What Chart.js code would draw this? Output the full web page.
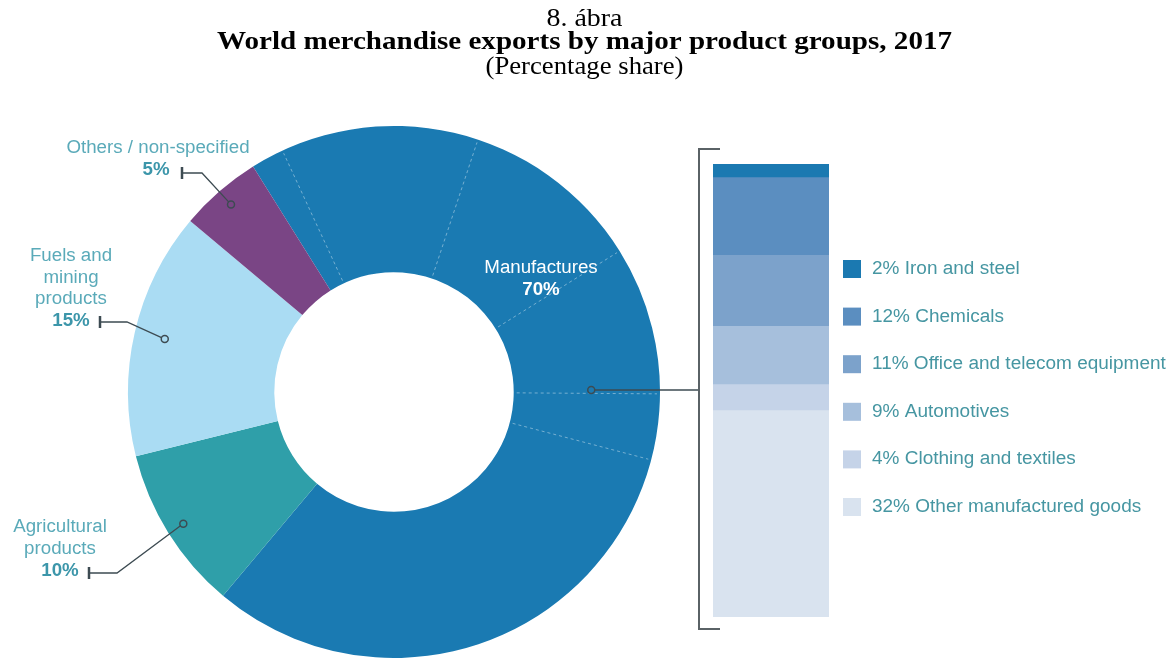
<!DOCTYPE html>
<html><head><meta charset="utf-8">
<script src="https://cdn.jsdelivr.net/npm/chart.js@4.4.0/dist/chart.umd.min.js"></script>
<style>
html,body{margin:0;padding:0;background:#fff;}
#wrap{position:relative;width:1169px;height:658px;overflow:hidden;background:#fff;}
canvas{position:absolute;left:0;top:0;}
</style></head><body>
<div id="wrap"><canvas id="donut" width="1169" height="658"></canvas><canvas id="bar" width="1169" height="658"></canvas></div>
<script>
// ---- data ----
const figureNo = '8. ábra';
const chartTitle = 'World merchandise exports by major product groups, 2017';
const chartSubtitle = '(Percentage share)';
const groupNames = ['Manufactures', 'Agricultural products', 'Fuels and mining products', 'Others / non-specified'];
const groupShares = [70, 10, 15, 5];
const subGroups = ['Iron and steel', 'Chemicals', 'Office and telecom equipment', 'Automotives', 'Clothing and textiles', 'Other manufactured goods'];
const subShares = [2, 12, 11, 9, 4, 32];

// ---- styles ----
const groupColors = ['#1a7ab2', '#2f9fa9', '#aadcf3', '#7a4585'];
const subColors = ['#1b79b1', '#5b8ec0', '#7ca2cb', '#a6bfdc', '#c5d3e8', '#d9e3ef'];
const SANS = '"Liberation Sans", Arial, sans-serif';
const SERIF = '"Liberation Serif", "Times New Roman", Times, serif';
const SX = 1.04;
const LABEL_C = '#5aaab9', PCT_C = '#3c96aa', LEG_C = '#4696a2', LINE_C = '#3d4b52';

// label layout per group (same order as groupNames)
const labelLines = [['Manufactures'], ['Agricultural', 'products'], ['Fuels and', 'mining', 'products'], ['Others / non-specified']];
const labelLayout = [
  {cx: 541, y: 268, lh: 22, color: '#ffffff', pctColor: '#ffffff'},
  {cx: 60, y: 527, lh: 22, color: LABEL_C, pctColor: PCT_C, tick: [89, 573], elbow: 117, frac: 0.88},
  {cx: 71, y: 256, lh: 21.7, color: LABEL_C, pctColor: PCT_C, tick: [100, 322], elbow: 127, frac: 0.79},
  {cx: 158, y: 148, lh: 22, color: LABEL_C, pctColor: PCT_C, pctCx: 156, tick: [182, 173], elbow: 202, frac: 0.88}
];

function txt(ctx, s, x, y, font, color, align, sx) {
  ctx.save(); ctx.font = font; ctx.fillStyle = color; ctx.textAlign = align; ctx.textBaseline = 'middle';
  ctx.scale(sx, 1); ctx.fillText(s, x / sx, y); ctx.restore();
}
function fitTxt(ctx, s, cx, y, font, color, w) {
  ctx.save(); ctx.font = font; const m = ctx.measureText(s).width; ctx.restore();
  txt(ctx, s, cx, y, font, color, 'center', w / m);
}
function ring(ctx, x, y) {
  ctx.beginPath(); ctx.arc(x, y, 3.5, 0, Math.PI * 2); ctx.lineWidth = 1.5; ctx.strokeStyle = LINE_C; ctx.stroke();
}

const donutChart = new Chart(document.getElementById('donut'), {
  type: 'doughnut',
  data: {labels: groupNames, datasets: [{data: groupShares, backgroundColor: groupColors, borderWidth: 0, hoverOffset: 0}]},
  options: {
    responsive: false, animation: false, events: [], rotation: -32, cutout: '45%',
    layout: {padding: {left: 128, right: 509, top: 126, bottom: 0}},
    plugins: {legend: {display: false}, tooltip: {enabled: false}}
  },
  plugins: [{
    id: 'subLines',
    afterDatasetsDraw(chart) {
      const ctx = chart.ctx;
      const a0 = chart.getDatasetMeta(0).data[0];
      const p = a0.getProps(['x', 'y', 'innerRadius', 'outerRadius', 'startAngle', 'endAngle'], true);
      const total = subShares.reduce((a, b) => a + b, 0);
      ctx.save(); ctx.strokeStyle = 'rgba(255,255,255,0.4)'; ctx.lineWidth = 1; ctx.setLineDash([3, 3]);
      let cum = 0;
      for (let i = 0; i < subShares.length - 1; i++) {
        cum += subShares[i];
        const a = p.startAngle + (p.endAngle - p.startAngle) * cum / total;
        ctx.beginPath();
        ctx.moveTo(p.x + Math.cos(a) * (p.innerRadius + 3), p.y + Math.sin(a) * (p.innerRadius + 3));
        ctx.lineTo(p.x + Math.cos(a) * (p.outerRadius - 3), p.y + Math.sin(a) * (p.outerRadius - 3));
        ctx.stroke();
      }
      ctx.restore();
    }
  }]
});

const decor = {
  id: 'decor',
  afterDraw(chart) {
    const ctx = chart.ctx;
    const area = chart.chartArea;
    // titles
    fitTxt(ctx, figureNo, 584.5, 19, '25px ' + SERIF, '#000', 76);
    fitTxt(ctx, chartTitle, 584.5, 43, 'bold 25px ' + SERIF, '#000', 735);
    fitTxt(ctx, chartSubtitle, 584.5, 67, '25px ' + SERIF, '#000', 198);

    // donut labels & leaders
    const arcs = donutChart.getDatasetMeta(0).data;
    groupNames.forEach((g, i) => {
      const L = labelLayout[i];
      const lines = labelLines[i];
      lines.forEach((s, k) => txt(ctx, s, L.cx, L.y + k * L.lh, '18px ' + SANS, L.color, 'center', SX));
      txt(ctx, groupShares[i] + '%', L.pctCx || L.cx, L.y + lines.length * L.lh, 'bold 18px ' + SANS, L.pctColor, 'center', SX);
      if (L.tick) {
        const p = arcs[i].getProps(['x', 'y', 'innerRadius', 'outerRadius', 'startAngle', 'endAngle'], true);
        const mid = (p.startAngle + p.endAngle) / 2;
        const r = p.innerRadius + L.frac * (p.outerRadius - p.innerRadius);
        const ax = p.x + Math.cos(mid) * r, ay = p.y + Math.sin(mid) * r;
        ctx.save();
        ctx.strokeStyle = LINE_C; ctx.lineWidth = 1.3;
        ctx.beginPath(); ctx.moveTo(L.tick[0], L.tick[1]); ctx.lineTo(L.elbow, L.tick[1]);
        const d = Math.hypot(ax - L.elbow, ay - L.tick[1]);
        ctx.lineTo(ax - (ax - L.elbow) / d * 3.5, ay - (ay - L.tick[1]) / d * 3.5); ctx.stroke();
        ctx.lineWidth = 2.5; ctx.beginPath(); ctx.moveTo(L.tick[0], L.tick[1] - 6); ctx.lineTo(L.tick[0], L.tick[1] + 6); ctx.stroke();
        ring(ctx, ax, ay);
        ctx.restore();
      }
    });

    // manufactures connector and bracket
    const m = arcs[0].getProps(['x', 'y', 'innerRadius', 'outerRadius'], true);
    const mx = m.x + m.innerRadius + 0.53 * (m.outerRadius - m.innerRadius), my = m.y - 2;
    const bx = area.left - 14;
    ctx.save();
    ctx.strokeStyle = LINE_C; ctx.lineWidth = 1.5;
    ctx.beginPath(); ctx.moveTo(mx + 3.5, my); ctx.lineTo(bx, my); ctx.stroke();
    ring(ctx, mx, my);
    ctx.strokeStyle = '#5a6266'; ctx.lineWidth = 2;
    ctx.beginPath();
    ctx.moveTo(area.left + 7, area.top - 15); ctx.lineTo(bx, area.top - 15);
    ctx.lineTo(bx, area.bottom + 12); ctx.lineTo(area.left + 7, area.bottom + 12);
    ctx.stroke();
    ctx.restore();

    // legend
    const lx = area.right + 14, ly0 = 269, dy = 47.6;
    subGroups.forEach((n, i) => {
      const y = ly0 + i * dy;
      ctx.fillStyle = subColors[i];
      ctx.fillRect(lx, y - 9, 18, 18);
      txt(ctx, subShares[i] + '% ' + n, lx + 29, y, '18px ' + SANS, LEG_C, 'left', 1.055);
    });
  }
};

const barChart = new Chart(document.getElementById('bar'), {
  type: 'bar',
  data: {
    labels: ['Manufactures'],
    datasets: subGroups.map((n, i) => ({label: n, data: [subShares[i]], backgroundColor: subColors[i], borderWidth: 0, barPercentage: 1, categoryPercentage: 1}))
  },
  options: {
    responsive: false, animation: false, events: [],
    layout: {padding: {left: 713, right: 340, top: 164, bottom: 41}},
    scales: {
      x: {stacked: true, display: false},
      y: {stacked: true, display: false, reverse: true, min: 0, max: subShares.reduce((a, b) => a + b, 0)}
    },
    plugins: {legend: {display: false}, tooltip: {enabled: false}}
  },
  plugins: [decor]
});
</script>
</body></html>
